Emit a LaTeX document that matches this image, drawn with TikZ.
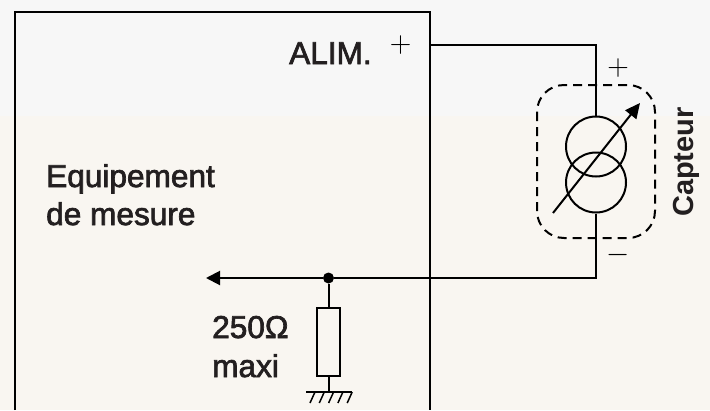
\documentclass[tikz,border=0pt]{standalone}
\usepackage{fontspec}
\setmainfont{Liberation Sans}
\newfontfamily\medfont{Liberation Sans}[FakeBold=2.2]
\usetikzlibrary{arrows.meta,calc}
\definecolor{bgtop}{HTML}{F7F7F7}
\definecolor{bgbot}{HTML}{F9F6F1}
\definecolor{ink}{HTML}{231F20}
\tikzset{
  wire/.style={draw=black,line width=2pt},
  thinwire/.style={draw=black,line width=1.5pt},
  lbl/.style={text=ink,inner sep=0pt,anchor=base west,font=\medfont\fontsize{31.6}{36}\selectfont},
  sign/.style={text=black,inner sep=0pt,scale=1.2,font=\fontsize{24.88}{30}\selectfont},
  srcring/.style={circle,draw=black,line width=2pt,minimum size=60pt,inner sep=0pt},
  resbox/.style={rectangle,draw=black,line width=2pt,minimum width=23pt,minimum height=68pt,inner sep=0pt},
  junction/.style={circle,fill=black,minimum size=11pt,inner sep=0pt},
  sensorbox/.style={draw=black,line width=2pt,dash pattern=on 9pt off 6pt,rounded corners=27pt}
}
\begin{document}
\begin{tikzpicture}[x=1pt,y=-1pt]
\useasboundingbox (0,0) rectangle (710,410);
\fill[bgtop] (0,0) rectangle (710,116);
\fill[bgbot] (0,116) rectangle (710,410);
% equipment box
\coordinate (bl) at (15,410);
\coordinate (tl) at (15,12);
\coordinate (tr) at (430,12);
\coordinate (br) at (430,410);
\draw[wire] (bl) -- (tl) -- (tr) -- (br);
% source
\node[srcring] (c1) at (596,146.5) {};
\node[srcring] (c2) at (596,182.5) {};
\coordinate (alim) at (430,45);
\coordinate (ct) at (596,45);
\coordinate (cb) at (596,278);
\coordinate (tip) at (206,278);
\node[junction] (j) at (328.5,278) {};
\node[resbox] (r) at (328.5,341.5) {};
\coordinate (gnd) at (328.5,392);
\coordinate (gl) at (306,392);
\coordinate (gr) at (352,392);
\draw[wire] (alim) -- (ct) -- (c1.north);
\draw[wire] (c2.south) -- (cb) -- (j);
\draw[wire,-{Triangle[length=14pt,width=14pt]}] (j) -- (tip);
\draw[wire] (j) -- (r.north);
\draw[wire] (r.south) -- (gnd);
\draw[wire] (gl) -- (gr);
\foreach \i in {0,1,2,3,4}{
  \draw[thinwire] ($(310+\i*9.3,403)$) -- ($(315+\i*9.3,392)$);
}
% variable arrow
\coordinate (a0) at (553,213);
\coordinate (a1) at (640,103);
\draw[wire,-{Triangle[length=15pt,width=14pt]}] (a0) -- (a1);
% sensor outline
\coordinate (s0) at (537,85);
\coordinate (s1) at (655,238);
\draw[sensorbox] (s0) rectangle (s1);
% labels
\node[lbl] (alimt) at (289,64) {ALIM.};
\node[sign] (p1) at (400.5,45.5) {$+$};
\node[sign] (p2) at (618,68) {$+$};
\node[sign] (m1) at (618,255) {$-$};
\node[lbl] (eq) at (46,187) {Equipement};
\node[lbl] (de) at (46,225) {de mesure};
\node[lbl] (ohm) at (212,338) {250Ω};
\node[lbl] (mx) at (212,377) {maxi};
\node[text=ink,inner sep=0pt,rotate=90,font=\fontsize{29}{34}\selectfont\bfseries] (cap) at (686,162) {Capteur};
\end{tikzpicture}
\end{document}
